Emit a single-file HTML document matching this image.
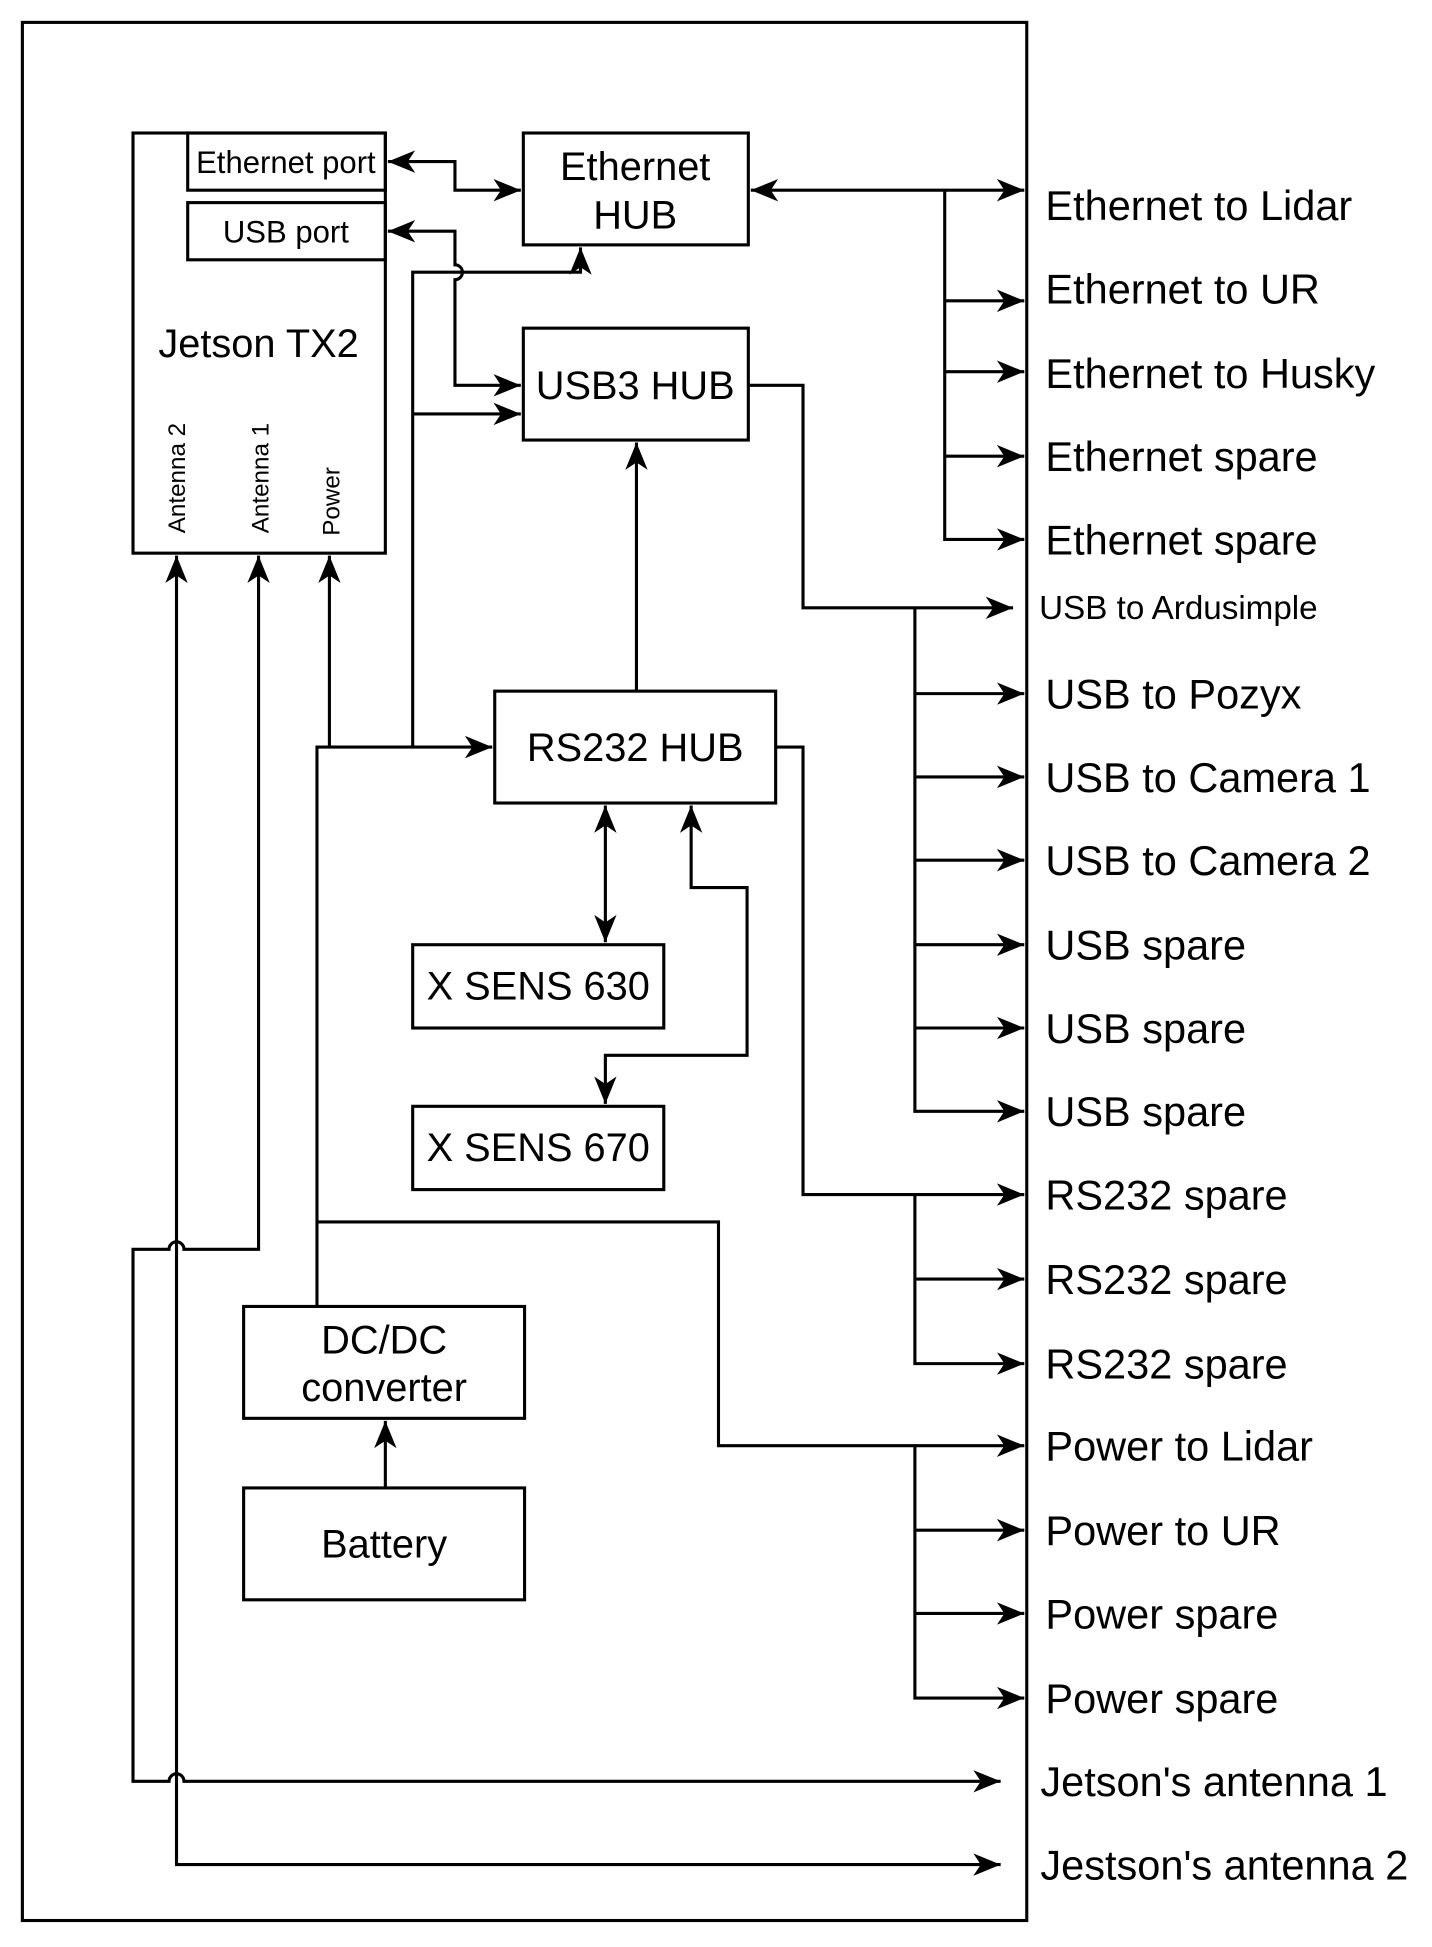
<!DOCTYPE html>
<html><head><meta charset="utf-8"><style>
html,body{margin:0;padding:0;background:#fff}
svg{display:block}
text{font-family:"Liberation Sans",Arial,sans-serif;fill:#000}
</style></head><body>
<svg width="1432" height="1947" viewBox="0 0 1152 1566.3" xmlns="http://www.w3.org/2000/svg">
<defs>
<marker id="a" markerUnits="userSpaceOnUse" markerWidth="24" markerHeight="24" viewBox="-22 -10 24 20" refX="0" refY="0" orient="auto-start-reverse">
<path d="M0,0 L-22,-9 L-16,0 L-22,9 Z" fill="#000"/>
</marker>
</defs>
<g fill="none" stroke="#000" stroke-width="2.5">
<rect x="18" y="18" width="808" height="1527"/>
<rect x="107" y="107" width="203" height="338"/>
<rect x="151" y="107" width="159" height="46"/>
<rect x="151" y="163" width="159" height="46"/>
<rect x="421" y="107" width="181" height="90"/>
<rect x="421" y="264" width="181" height="90"/>
<rect x="398" y="556" width="226" height="90"/>
<rect x="332" y="760" width="202" height="67"/>
<rect x="332" y="890" width="202" height="67"/>
<rect x="196" y="1051" width="226" height="90"/>
<rect x="196" y="1197" width="226" height="90"/>
</g>
<g fill="none" stroke="#000" stroke-width="2.5" stroke-linejoin="miter">
<path d="M312,130 H366 V153 H419" marker-start="url(#a)" marker-end="url(#a)"/>
<path d="M312,186 H366 V213 A6,6 0 0 1 366,225 V310 H419" marker-start="url(#a)" marker-end="url(#a)"/>
<path d="M332,601 V219 H467 V199" marker-end="url(#a)"/>
<path d="M332,333 H419" marker-end="url(#a)"/>
<path d="M265,601 V447" marker-end="url(#a)"/>
<path d="M255,1051 V601 H396" marker-end="url(#a)"/>
<path d="M255,983 H578 V1163 H824" marker-end="url(#a)"/>
<path d="M208,447 V1005 H148 A6,6 0 0 0 136,1005 H107 V1433 H136 A6,6 0 0 1 148,1433 H805" marker-start="url(#a)" marker-end="url(#a)"/>
<path d="M142,447 V1500 H805" marker-start="url(#a)" marker-end="url(#a)"/>
<path d="M512,556 V356" marker-end="url(#a)"/>
<path d="M487,648 V758" marker-start="url(#a)" marker-end="url(#a)"/>
<path d="M556,648 V714 H601 V849 H487 V888" marker-start="url(#a)" marker-end="url(#a)"/>
<path d="M604,153 H824" marker-start="url(#a)" marker-end="url(#a)"/>
<path d="M760,153 V434 H824" marker-end="url(#a)"/>
<path d="M760,242 H824" marker-end="url(#a)"/>
<path d="M760,299 H824" marker-end="url(#a)"/>
<path d="M760,367 H824" marker-end="url(#a)"/>
<path d="M602,310 H646 V489 H815" marker-end="url(#a)"/>
<path d="M736,489 V894 H824" marker-end="url(#a)"/>
<path d="M736,558 H824" marker-end="url(#a)"/>
<path d="M736,625 H824" marker-end="url(#a)"/>
<path d="M736,692 H824" marker-end="url(#a)"/>
<path d="M736,760 H824" marker-end="url(#a)"/>
<path d="M736,827 H824" marker-end="url(#a)"/>
<path d="M624,601 H646 V961 H824" marker-end="url(#a)"/>
<path d="M736,961 V1097 H824" marker-end="url(#a)"/>
<path d="M736,1029 H824" marker-end="url(#a)"/>
<path d="M736,1163 V1366 H824" marker-end="url(#a)"/>
<path d="M736,1231 H824" marker-end="url(#a)"/>
<path d="M736,1298 H824" marker-end="url(#a)"/>
<path d="M310,1197 V1143" marker-end="url(#a)"/>
</g>
<g font-size="25" text-anchor="middle">
<text x="230" y="139">Ethernet port</text>
<text x="230" y="195">USB port</text>
</g>
<g font-size="32" text-anchor="middle">
<text x="208" y="287">Jetson TX2</text>
<text x="511" y="145">Ethernet</text>
<text x="511" y="184">HUB</text>
<text x="511" y="321">USB3 HUB</text>
<text x="511" y="612">RS232 HUB</text>
<text x="433" y="804">X SENS 630</text>
<text x="433" y="934">X SENS 670</text>
<text x="309" y="1089">DC/DC</text>
<text x="309" y="1127">converter</text>
<text x="309" y="1253">Battery</text>
</g>
<g font-size="19.5">
<text transform="translate(149,429) rotate(-90)">Antenna 2</text>
<text transform="translate(216,429) rotate(-90)">Antenna 1</text>
<text transform="translate(273,431) rotate(-90)">Power</text>
</g>
<g font-size="33.4">
<text x="841" y="177">Ethernet to Lidar</text>
<text x="841" y="244">Ethernet to UR</text>
<text x="841" y="312">Ethernet to Husky</text>
<text x="841" y="379">Ethernet spare</text>
<text x="841" y="446">Ethernet spare</text>
<text x="836" y="498" font-size="26.7">USB to Ardusimple</text>
<text x="841" y="570">USB to Pozyx</text>
<text x="841" y="637">USB to Camera 1</text>
<text x="841" y="704">USB to Camera 2</text>
<text x="841" y="772">USB spare</text>
<text x="841" y="839">USB spare</text>
<text x="841" y="906">USB spare</text>
<text x="841" y="973">RS232 spare</text>
<text x="841" y="1041">RS232 spare</text>
<text x="841" y="1109">RS232 spare</text>
<text x="841" y="1175">Power to Lidar</text>
<text x="841" y="1243">Power to UR</text>
<text x="841" y="1310">Power spare</text>
<text x="841" y="1378">Power spare</text>
<text x="837" y="1445">Jetson's antenna 1</text>
<text x="837" y="1512">Jestson's antenna 2</text>
</g>
</svg>
</body></html>
